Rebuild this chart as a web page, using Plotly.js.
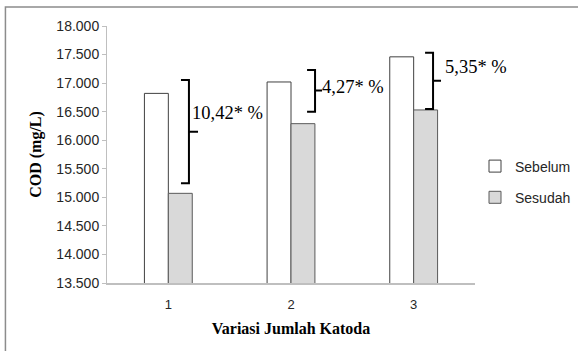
<!DOCTYPE html>
<html>
<head>
<meta charset="utf-8">
<script src="https://cdn.plot.ly/plotly-3.0.1.min.js"></script>
<style>
html,body{margin:0;padding:0;background:#fff;}
#chart{width:578px;height:351px;}
</style>
</head>
<body>
<div id="chart"></div>
<script>
// Data
const categories = [1, 2, 3];
const categoryLabels = ["1", "2", "3"];
const sebelum = [16.82, 17.02, 17.46];
const sesudah = [15.07, 16.29, 16.53];
const reductionLabels = ["10,42* %", "4,27* %", "5,35* %"];
const yTickVals = [13.5, 14.0, 14.5, 15.0, 15.5, 16.0, 16.5, 17.0, 17.5, 18.0];
const yTickText = ["13.500", "14.000", "14.500", "15.000", "15.500", "16.000", "16.500", "17.000", "17.500", "18.000"];

// Brace geometry (annotation decoration): [xLine, yTop, yBottom, yMid, xTip]
const braces = [
  [1.168, 17.055, 15.246, 16.149, 1.242],
  [2.196, 17.23, 16.50, 16.87, 2.253],
  [3.158, 17.53, 16.547, 17.04, 3.223]
];
const braceLabelPos = [[1.177, 16.48], [2.236, 16.93], [3.239, 17.28]];

const sansFont = "Liberation Sans, Arial, sans-serif";
const serifFont = "Liberation Serif, Times New Roman, serif";

const traces = [
  {
    type: "bar", name: "Sebelum", x: categories, y: sebelum,
    marker: {color: "#ffffff", line: {color: "#404040", width: 1}},
    legendgroup: "a", hoverinfo: "skip"
  },
  {
    type: "bar", name: "Sesudah", x: categories, y: sesudah,
    marker: {color: "#d9d9d9", line: {color: "#5a5a5a", width: 1}},
    legendgroup: "b", hoverinfo: "skip"
  }
];

const shapes = braces.map(b => {
  const h = 0.065;
  return {
    type: "path", xref: "x", yref: "y",
    path: `M${b[0]-h},${b[1]} L${b[0]},${b[1]} L${b[0]},${b[2]} L${b[0]-h},${b[2]} M${b[0]},${b[3]} L${b[4]},${b[3]}`,
    line: {color: "#000000", width: 2}
  };
});
// chart outer border
shapes.push({
  type: "rect", xref: "paper", yref: "paper",
  x0: -0.276, x1: 1.3, y0: -0.3, y1: 1.074,
  line: {color: "#8c8c8c", width: 1.5}, fillcolor: "rgba(0,0,0,0)", layer: "below"
});

const annotations = reductionLabels.map((t, i) => ({
  text: t, x: braceLabelPos[i][0], y: braceLabelPos[i][1], xref: "x", yref: "y",
  xanchor: "left", yanchor: "middle", showarrow: false,
  font: {family: serifFont, size: 18.5, color: "#000"}
}));

const layout = {
  width: 578, height: 351,
  margin: {l: 107, r: 103, t: 26, b: 68, autoexpand: false},
  paper_bgcolor: "#ffffff", plot_bgcolor: "#ffffff",
  barmode: "group", bargap: 0.61, bargroupgap: 0,
  showlegend: true,
  legend: {
    x: 1.0, y: 0.393, xanchor: "left", yanchor: "middle",
    font: {family: sansFont, size: 14, color: "#262626"},
    traceorder: "grouped", tracegroupgap: 10, bgcolor: "rgba(0,0,0,0)"
  },
  xaxis: {
    range: [0.5, 3.5], tickvals: categories, ticktext: categoryLabels,
    showgrid: false, zeroline: false, showline: true, linecolor: "#bfbfbf", linewidth: 2,
    ticks: "", ticklabelstandoff: 8, tickfont: {family: sansFont, size: 13, color: "#262626"},
    title: {text: "<b>Variasi Jumlah Katoda</b>", font: {family: serifFont, size: 16, color: "#000"}, standoff: 12},
    fixedrange: true
  },
  yaxis: {
    range: [13.5, 18], tickvals: yTickVals, ticktext: yTickText,
    showgrid: false, zeroline: false, showline: true, linecolor: "#bfbfbf", linewidth: 1,
    ticks: "outside", ticklen: 4, tickcolor: "#bfbfbf",
    tickfont: {family: sansFont, size: 14, color: "#262626"},
    title: {text: "<b>COD (mg/L)</b>", font: {family: serifFont, size: 16, color: "#000"}, standoff: 10},
    fixedrange: true
  },
  shapes: shapes,
  annotations: annotations
};

Plotly.newPlot("chart", traces, layout, {displayModeBar: false, staticPlot: true});
</script>
</body>
</html>
